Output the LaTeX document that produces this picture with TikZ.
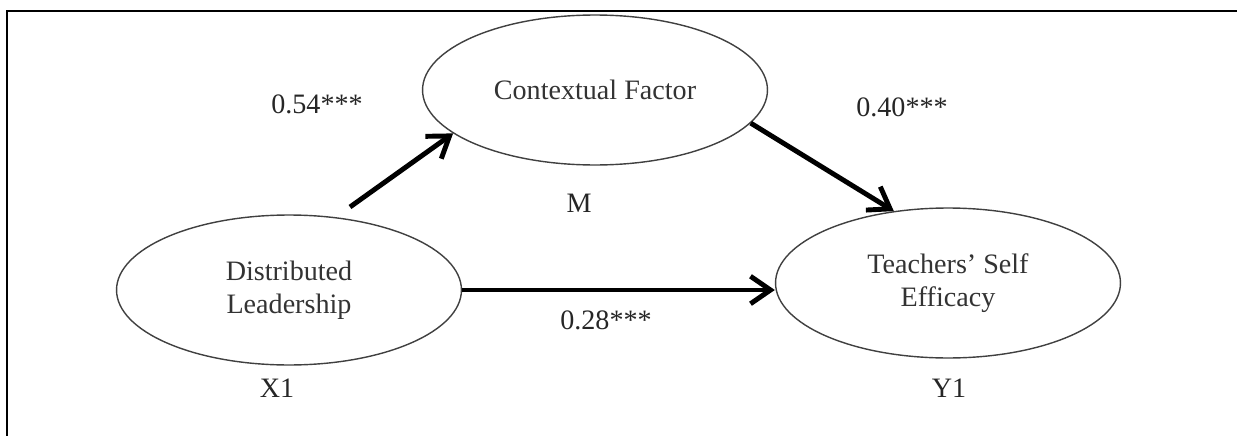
\documentclass[tikz,border=0pt]{standalone}
\usepackage{fontspec}
\setmainfont{Liberation Serif}
\usetikzlibrary{shapes.geometric,arrows.meta}
\begin{document}
\begin{tikzpicture}[x=0.02cm,y=-0.02cm,
        latent/.style={draw=black!75, line width=0.8pt, ellipse, minimum width=6.9cm, minimum height=3cm, text=black!80, align=center, font=\fontsize{16}{18.5}\selectfont},
        lbl/.style={text=black!85, font=\fontsize{16}{19}\selectfont},
        effect/.style={draw=black, line width=2.8pt, -{Straight Barb[length=4mm,width=5.5mm]}}]
        \useasboundingbox (0,0) rectangle (1237,436);
        \draw[line width=1.2pt] (1237,11) -- (7,11) -- (7,436);

        \node[latent] (ctx) at (595,90) {Contextual Factor};
        \node[latent] (dist) at (289,290) {Distributed\\Leadership};
        \node[latent] (eff) at (948,283) {Teachers’ Self\\Efficacy};

        \node[lbl] (b1) at (317,104) {0.54***};
        \node[lbl] (b2) at (902,107) {0.40***};
        \node[lbl] (b3) at (606,320) {0.28***};
        \node[lbl] (m) at (579,203) {M};
        \node[lbl] (x1) at (277,388) {X1};
        \node[lbl] (y1) at (949,388) {Y1};

        \coordinate (s1) at (350,207);
        \path[effect] (s1) -- (ctx.197);
        \path[effect] (ctx.-12) -- (eff.127);
        \path[effect] (dist.east) -- (dist.east -| eff.west);
    \end{tikzpicture}
\end{document}
